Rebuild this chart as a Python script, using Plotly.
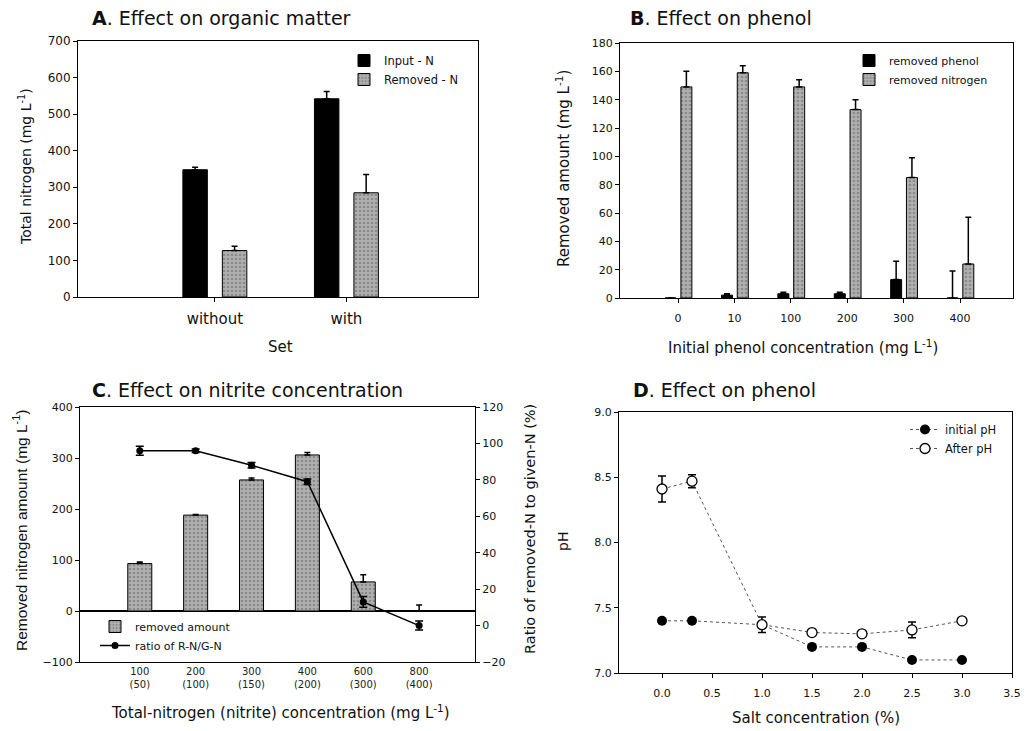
import plotly.graph_objects as go

# ---------------- data ----------------
A_sets = ["without", "with"]
A_input = [348, 542]
A_input_err = [7, 20]
A_removed = [127, 285]
A_removed_err = [12, 50]

B_conc = ["0", "10", "100", "200", "300", "400"]
B_phenol = [0, 2, 3, 3, 13, 0]
B_phenol_err = [0, 1, 1, 1, 13, 19]
B_nitrogen = [149, 159, 149, 133, 85, 24]
B_nitrogen_err = [11, 5, 5, 7, 14, 33]

C_labels = ["100<br>(50)", "200<br>(100)", "300<br>(150)", "400<br>(200)", "600<br>(300)", "800<br>(400)"]
C_removed = [93, 188, 257, 306, 57, 0]
C_removed_err = [3, 1, 4, 5, 14, 12]
C_ratio = [96, 96, 88, 79, 13, 0]
C_ratio_err = [2.5, 1, 1.5, 1.5, 3, 2.5]

D_salt = [0.0, 0.3, 1.0, 1.5, 2.0, 2.5, 3.0]
D_initial = [7.40, 7.40, 7.37, 7.20, 7.20, 7.10, 7.10]
D_after = [8.41, 8.47, 7.37, 7.31, 7.30, 7.33, 7.40]
D_after_err = [0.10, 0.05, 0.06, 0.01, 0.01, 0.06, 0.01]

# ---------------- helpers ----------------
OFF = 8                      # page body margin of the html page
W, H = 1036 - OFF, 731 - OFF
def px(x):
    return (x - OFF) / W
def py(y):
    return 1 - (y - OFF) / H

FONT = "DejaVu Sans, Verdana, sans-serif"
ARIAL = "Liberation Sans, Arial, sans-serif"
TXT = "#111111"
GREY = "#b0b0b0"
PAT = dict(shape=".", fgcolor="#666666", bgcolor=GREY, size=4, solidity=0.35)

def bar_err(arr):
    return dict(type="data", array=arr, arrayminus=[0] * len(arr), symmetric=False,
                color="black", thickness=1.5, width=3)

fig = go.Figure()

# ---- Panel A ----
idxA = list(range(1, len(A_sets) + 1))
fig.add_trace(go.Bar(x=idxA, y=A_input, width=0.186, offset=-0.243, name="Input - N",
                     marker=dict(color="black", line=dict(color="black", width=1)),
                     error_y=bar_err(A_input_err), xaxis="x", yaxis="y", legend="legend"))
fig.add_trace(go.Bar(x=idxA, y=A_removed, width=0.186, offset=0.057, name="Removed - N",
                     marker=dict(color=GREY, pattern=PAT, line=dict(color="black", width=1)),
                     error_y=bar_err(A_removed_err), xaxis="x", yaxis="y", legend="legend"))

# ---- Panel B ----
idxB = list(range(len(B_conc)))
fig.add_trace(go.Bar(x=idxB, y=B_phenol, width=0.195, offset=-0.23, name="removed phenol",
                     marker=dict(color="black", line=dict(color="black", width=1)),
                     error_y=bar_err(B_phenol_err), xaxis="x2", yaxis="y2", legend="legend2"))
fig.add_trace(go.Bar(x=idxB, y=B_nitrogen, width=0.195, offset=0.05, name="removed nitrogen",
                     marker=dict(color=GREY, pattern=PAT, line=dict(color="black", width=1)),
                     error_y=bar_err(B_nitrogen_err), xaxis="x2", yaxis="y2", legend="legend2"))

# ---- Panel C ----
idxC = list(range(len(C_labels)))
fig.add_trace(go.Bar(x=idxC, y=C_removed, width=0.43, name="removed amount",
                     marker=dict(color=GREY, pattern=PAT, line=dict(color="black", width=1)),
                     error_y=bar_err(C_removed_err), xaxis="x3", yaxis="y3", legend="legend3"))
fig.add_trace(go.Scatter(x=idxC, y=C_ratio, mode="lines+markers", name="ratio of R-N/G-N",
                         line=dict(color="black", width=1.5),
                         marker=dict(symbol="circle", size=7, color="black"),
                         error_y=dict(type="data", array=C_ratio_err, color="black", thickness=1.5, width=4),
                         xaxis="x3", yaxis="y5", legend="legend3"))

# ---- Panel D ----
fig.add_trace(go.Scatter(x=D_salt, y=D_initial, mode="lines+markers", name="initial pH",
                         line=dict(color="#555555", width=1, dash="dot"),
                         marker=dict(symbol="circle", size=10, color="black"),
                         xaxis="x4", yaxis="y4", legend="legend4"))
fig.add_trace(go.Scatter(x=D_salt, y=D_after, mode="lines+markers", name="After pH",
                         line=dict(color="#555555", width=1, dash="dot"),
                         marker=dict(symbol="circle", size=10, color="white",
                                     line=dict(color="black", width=1.3)),
                         error_y=dict(type="data", array=D_after_err, color="black", thickness=1.5, width=4),
                         xaxis="x4", yaxis="y4", legend="legend4"))

# ---------------- axes ----------------
def ax(**kw):
    d = dict(showline=True, linecolor="black", linewidth=1, mirror=True, ticks="outside",
             ticklen=4, tickcolor="black", showgrid=False, zeroline=False, automargin=False,
             tickfont=dict(family=FONT, size=11, color=TXT))
    d.update(kw)
    return d

layout = dict(
    width=W, height=H, margin=dict(l=0, r=0, t=0, b=0),
    paper_bgcolor="white", plot_bgcolor="white", barmode="overlay", showlegend=True,
    font=dict(family=FONT, color=TXT),
    xaxis=ax(domain=[px(78), px(478)], range=[-0.04, 3.0], tickvals=idxA, ticktext=A_sets,
             tickfont=dict(family=FONT, size=15, color=TXT), ticklabelstandoff=4, anchor="y"),
    yaxis=ax(domain=[py(297), py(41)], range=[0, 700], dtick=100, anchor="x",
             tickfont=dict(family=FONT, size=12, color=TXT)),
    xaxis2=ax(domain=[px(620), px(1013)], range=[-1.03, 5.94], tickvals=idxB, ticktext=B_conc,
              ticklabelstandoff=6, anchor="y2"),
    yaxis2=ax(domain=[py(298), py(43)], range=[0, 180], dtick=20, anchor="x2"),
    xaxis3=ax(domain=[px(80), px(475)], range=[-1.07, 6.0], tickvals=idxC, ticktext=C_labels,
              ticks="", tickfont=dict(family=FONT, size=10, color="#222222"), anchor="y3"),
    yaxis3=ax(domain=[py(662), py(407)], range=[-100, 400], dtick=100, anchor="x3",
              zeroline=True, zerolinecolor="black", zerolinewidth=1.5),
    yaxis5=ax(overlaying="y3", side="right", range=[-20, 120], dtick=20, anchor="x3",
              mirror=False),
    xaxis4=ax(domain=[px(619), px(1012)], range=[-0.43, 3.5], dtick=0.5, tick0=0,
              tickformat=".1f", ticklabelstandoff=6, anchor="y4"),
    yaxis4=ax(domain=[py(673), py(412)], range=[7.0, 9.0], dtick=0.5, tickformat=".1f", anchor="x4"),
)

def leg(x, y, size):
    return dict(x=px(x), y=py(y), xanchor="left", yanchor="top", bgcolor="rgba(0,0,0,0)",
                font=dict(family=FONT, size=size, color=TXT), tracegroupgap=0, itemwidth=30)

layout["legend"] = leg(344, 46, 11.5)
layout["legend2"] = leg(849, 46, 11)
layout["legend3"] = leg(95, 612, 11)
layout["legend4"] = leg(905, 415, 11.5)

fig.update_layout(**layout)

# ---------------- titles / axis titles ----------------
def note(text, x, y, size, angle=0, xanchor="center", family=FONT):
    fig.add_annotation(text=text, x=px(x), y=py(y), xref="paper", yref="paper",
                       xanchor=xanchor, yanchor="middle", showarrow=False, textangle=angle,
                       font=dict(family=family, size=size, color=TXT))

note("<b>A</b>. Effect on organic matter", 90, 18, 19, xanchor="left")
note("<b>B</b>. Effect on phenol", 628, 18, 19, xanchor="left")
note("<b>C</b>. Effect on nitrite concentration", 90, 390, 19, xanchor="left")
note("<b>D</b>. Effect on phenol", 631, 390, 19, xanchor="left")

note("Total nitrogen (mg L<sup>-1</sup>)", 25, 167, 14, angle=-90)
note("Set", 280, 347, 15)
note("Removed amount (mg L<sup>-1</sup>)", 563, 169, 15, angle=-90)
note("Initial phenol concentration (mg L<sup>-1</sup>)", 803, 347, 15)
note("Removed nitrogen amount (mg L<sup>-1</sup>)", 20, 531, 15.5, angle=-90, family=ARIAL)
note("Ratio of removed-N to given-N (%)", 530, 529, 14.5, angle=-90)
note("Total-nitrogen (nitrite) concentration (mg L<sup>-1</sup>)", 280, 712, 15)
note("pH", 563, 542, 14, angle=-90)
note("Salt concentration (%)", 816, 718, 15)

fig.write_html("out.html")
